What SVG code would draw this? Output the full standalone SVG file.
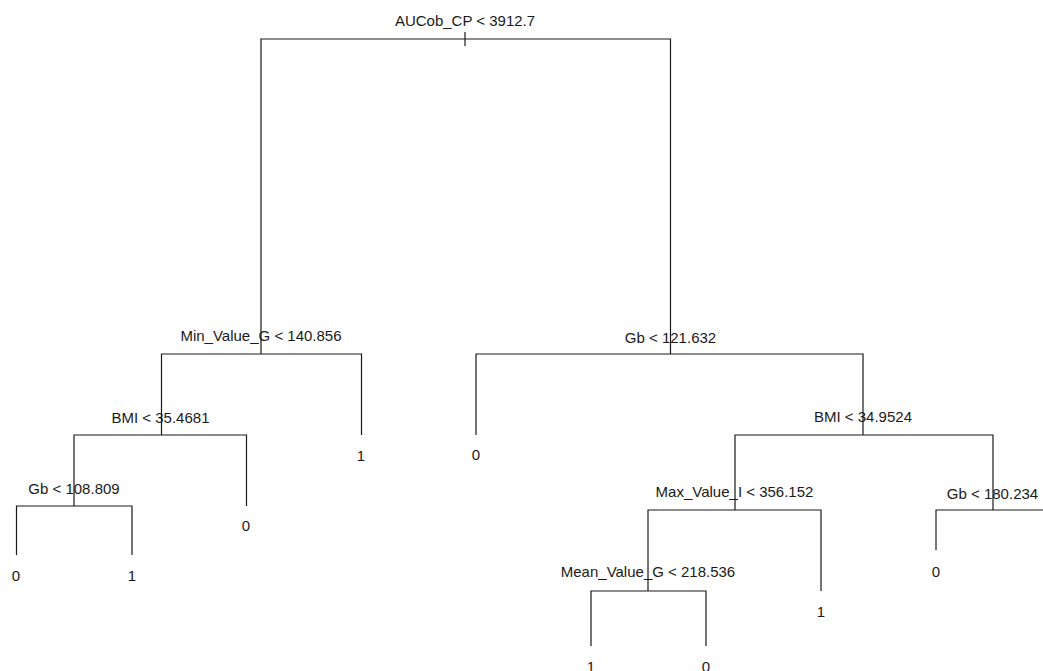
<svg xmlns="http://www.w3.org/2000/svg" width="1043" height="671" viewBox="0 0 1043 671">
<style>
.e{fill:none;stroke:#1a1a1a;stroke-width:1.2}
text{font-family:"Liberation Sans",Arial,sans-serif;font-size:15px;fill:#1a1a1a;text-anchor:middle}
</style>
<rect width="1043" height="671" fill="#fff"/>
<g id="connectors">
<path class="e" d="M465,32V46"/>
<path class="e" d="M261,354V39H670.5V354"/>
<path class="e" d="M161.5,435V354H361.5V435"/>
<path class="e" d="M74,506V435H246.5V506"/>
<path class="e" d="M16.5,555V506H132V555"/>
<path class="e" d="M476,435V354H863V435"/>
<path class="e" d="M735,510V435H993V510"/>
<path class="e" d="M936,550V510H1050"/>
<path class="e" d="M648,591V510H821V591"/>
<path class="e" d="M591,646V591H706V646"/>
</g>
<g id="n_root"><text x="465" y="26">AUCob_CP &lt; 3912.7</text></g>
<g id="n_minvalg"><text x="261" y="341">Min_Value_G &lt; 140.856</text></g>
<g id="n_bmi1"><text x="160.5" y="423">BMI &lt; 35.4681</text></g>
<g id="n_gb1"><text x="74" y="494">Gb &lt; 108.809</text></g>
<g id="leaf_a"><text x="16" y="581">0</text></g>
<g id="leaf_b"><text x="132" y="581">1</text></g>
<g id="leaf_c"><text x="246" y="531">0</text></g>
<g id="leaf_d"><text x="361" y="461">1</text></g>
<g id="n_gb2"><text x="670.5" y="343">Gb &lt; 121.632</text></g>
<g id="leaf_e"><text x="476" y="460">0</text></g>
<g id="n_bmi2"><text x="863" y="422">BMI &lt; 34.9524</text></g>
<g id="n_maxvi"><text x="734.5" y="497">Max_Value_I &lt; 356.152</text></g>
<g id="n_meanvg"><text x="648" y="577">Mean_Value_G &lt; 218.536</text></g>
<g id="leaf_f"><text x="591" y="672">1</text></g>
<g id="leaf_g"><text x="706" y="672">0</text></g>
<g id="leaf_h"><text x="821" y="617">1</text></g>
<g id="n_gb3"><text x="992.5" y="499">Gb &lt; 180.234</text></g>
<g id="leaf_i"><text x="936" y="577">0</text></g>
</svg>
